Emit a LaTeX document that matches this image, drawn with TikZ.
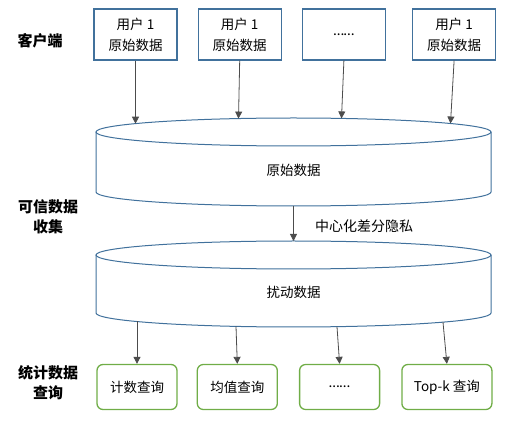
\documentclass[tikz,border=0pt]{standalone}
\usepackage{fontspec}
\setmainfont{Noto Sans CJK SC}
\newfontfamily\latinfont{Carlito}
\usetikzlibrary{arrows.meta, positioning}

\definecolor{boxblue}{RGB}{65,113,156}
\definecolor{boxgreen}{RGB}{112,173,71}

\begin{document}
\begin{tikzpicture}[x=1pt, y=1pt, node distance=20pt]
    \tikzset{
        user/.style={
            rectangle,
            draw=boxblue,
            line width=1.2pt,
            minimum width=83pt,
            minimum height=51pt,
            inner sep=0pt,
            align=center,
            font=\fontsize{13.5}{21}\selectfont
        },
        query/.style={
            rectangle,
            rounded corners=6pt,
            draw=boxgreen,
            line width=1.3pt,
            minimum width=80pt,
            minimum height=45pt,
            inner sep=0pt,
            font=\fontsize{13.5}{16}\selectfont
        },
        layer/.style={align=center, font=\fontsize{15}{20}\selectfont\bfseries},
        db/.style={draw=boxblue, line width=1pt},
        flow/.style={draw=black!70, line width=0.8pt, -{Triangle[length=7pt, width=7pt]}}
    }

    \useasboundingbox (0,0) rectangle (525,-430);

    % cylinders
    \draw[db] (96,-132) -- (96,-192) arc[start angle=180, end angle=360, x radius=197.5, y radius=14] -- (491,-132);
    \draw[db] (293.5,-132) ellipse[x radius=197.5, y radius=14];
    \draw[db] (96,-255) -- (96,-313) arc[start angle=180, end angle=360, x radius=197.5, y radius=14] -- (491,-255);
    \draw[db] (293.5,-255) ellipse[x radius=197.5, y radius=14];

    \node[font=\fontsize{13.5}{16}\selectfont] (raw) at (293.5,-170) {原始数据};
    \node[font=\fontsize{13.5}{16}\selectfont] (pert) at (293.5,-292) {扰动数据};

    \coordinate (rawbot) at (293.5,-206);
    \coordinate (pertop) at (293.5,-241);

    % clients
    \node[user] (u1) at (135.5,-34.5) {用户 1\\原始数据};
    \node[user, right=20pt of u1] (u2) {用户 1\\原始数据};
    \node[user, right=20pt of u2] (u3) {{\latinfont\fontsize{15}{16}\selectfont ……}};
    \node[user, right=26pt of u3] (u4) {用户 1\\原始数据};

    \coordinate (in1) at (135.5,-123.7);
    \coordinate (in2) at (238.5,-118.6);
    \coordinate (in3) at (341.5,-118.4);
    \coordinate (in4) at (450.5,-123.5);

    \draw[flow] (u1.south) -- (in1);
    \draw[flow] (u2.south) -- (in2);
    \draw[flow] (u3.south) -- (in3);
    \draw[flow] (u4.south) -- (in4);

    \draw[flow] (rawbot) -- (pertop)
        node[midway, right=18pt, yshift=-3pt, font=\fontsize{14}{16}\selectfont] (ldp) {中心化差分隐私};

    % queries
    \node[query] (q1) at (137,-387) {计数查询};
    \node[query, right=19pt of q1] (q2) {均值查询};
    \node[query, right=21pt of q2] (q3) {{\latinfont\fontsize{15}{16}\selectfont ……}};
    \node[query, minimum width=90pt, right=21pt of q3] (q4) {Top-k 查询};

    \coordinate (out1) at (137,-321.5);
    \coordinate (out2) at (236,-326.4);
    \coordinate (out3) at (337,-326.7);
    \coordinate (out4) at (443,-322.2);

    \draw[flow] (out1) -- (q1.north);
    \draw[flow] (out2) -- (q2.north);
    \draw[flow] (out3) -- (q3.north);
    \draw[flow] (out4) -- (q4.north);

    % layer labels
    \node[layer] (client) at (40,-41) {客户端};
    \node[layer] (collect) at (48,-217) {可信数据\\收集};
    \node[layer] (stats) at (48,-383) {统计数据\\查询};

\end{tikzpicture}
\end{document}
